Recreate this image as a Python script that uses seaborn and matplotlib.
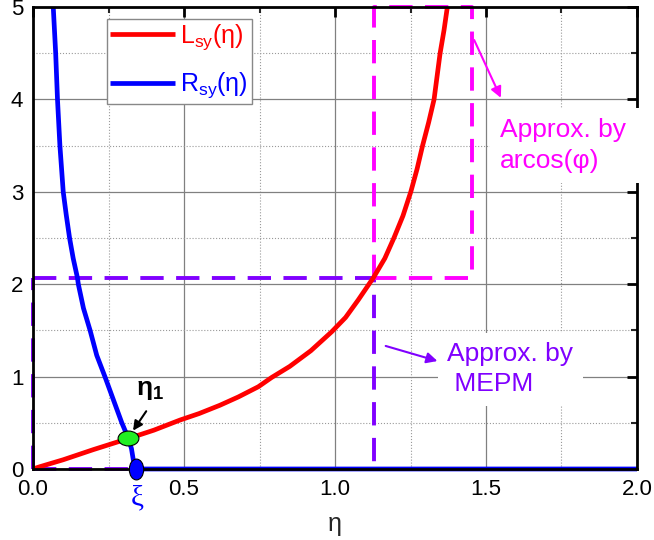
import numpy as np
import pandas as pd
import seaborn as sns
import matplotlib
matplotlib.use("Agg")
import matplotlib.pyplot as plt
from matplotlib.path import Path
from matplotlib.ticker import MultipleLocator

# ---- data ----
L_eta = [0.0, 0.023, 0.10, 0.20, 0.316, 0.40, 0.487, 0.55, 0.619, 0.68, 0.746, 0.79,
         0.85, 0.92, 0.989, 1.035, 1.077, 1.127, 1.165, 1.195, 1.225, 1.251, 1.272,
         1.29, 1.31, 1.328, 1.348, 1.361, 1.372]
L_val = [0.0, 0.025, 0.10, 0.21, 0.33, 0.42, 0.53, 0.60, 0.69, 0.78, 0.89, 0.99,
         1.11, 1.28, 1.485, 1.64, 1.83, 2.07, 2.28, 2.50, 2.74, 3.00, 3.25,
         3.50, 3.75, 4.00, 4.50, 4.75, 5.00]

R_eta = [0.067, 0.071, 0.075, 0.081, 0.089, 0.100, 0.110, 0.121, 0.133, 0.147, 0.150,
         0.167, 0.189, 0.211, 0.238, 0.266, 0.294, 0.316, 0.326, 0.332, 0.338, 0.341,
         0.6, 1.0, 1.5, 2.0]
R_val = [5.00, 4.75, 4.50, 4.00, 3.50, 3.00, 2.75, 2.50, 2.28, 2.07, 2.00,
         1.74, 1.50, 1.23, 1.00, 0.75, 0.50, 0.33, 0.22, 0.10, 0.02, 0.0,
         0.0, 0.0, 0.0, 0.0]

eta1 = [0.316]
eta1_val = [0.33]
xi = [0.340]
xi_val = [0.0]

eta_mepm = 1.13
L_mepm = 2.07
eta_arcos = 1.455
y_top = 5.0

x_ticks = [0.0, 0.5, 1.0, 1.5, 2.0]
x_ticklabels = ["0.0", "0.5", "1.0", "1.5", "2.0"]
y_ticks = [0, 1, 2, 3, 4, 5]

# ---- style ----
sns.set_theme(style="white")
plt.rcParams["font.family"] = ["Liberation Sans", "DejaVu Sans"]
plt.rcParams["mathtext.fontset"] = "custom"
plt.rcParams["mathtext.rm"] = "Liberation Sans"
plt.rcParams["mathtext.it"] = "Liberation Sans:italic"
plt.rcParams["mathtext.bf"] = "Liberation Sans:bold"

RED = "#FF0000"
BLUE = "#0000FF"
MAG = "#FF00FF"
PUR = "#8000FF"

fig = plt.figure(figsize=(6.54, 5.40), dpi=100)
ax = fig.add_axes([0.0505, 0.1315, 0.9235, 0.8555])

dfL = pd.DataFrame({"eta": L_eta, "val": L_val})
dfR = pd.DataFrame({"eta": R_eta, "val": R_val})

# dashed approximation rectangles
dash = (6, 3.2)
ax.plot([0, eta_mepm, eta_mepm], [L_mepm, L_mepm, 0], color=PUR, lw=2.8, dashes=dash, zorder=3)
ax.plot([0, 0], [0, L_mepm], color=PUR, lw=2.8, dashes=dash, zorder=3, clip_on=False)
ax.plot([0, eta_mepm], [0, 0], color=PUR, lw=2.8, dashes=dash, zorder=3, clip_on=False)
ax.plot([eta_mepm, eta_mepm, eta_arcos, eta_arcos, eta_mepm],
        [L_mepm, y_top, y_top, L_mepm, L_mepm], color=MAG, lw=2.8, dashes=dash, zorder=3, clip_on=False)

sns.lineplot(data=dfR, x="eta", y="val", color=BLUE, lw=3.4, ax=ax, sort=False,
             label=r"R$_{\rm sy}$(η)", zorder=4, clip_on=False)
sns.lineplot(data=dfL, x="eta", y="val", color=RED, lw=3.4, ax=ax, sort=False,
             label=r"L$_{\rm sy}$(η)", zorder=5)
for ln in ax.get_lines():
    ln.set_solid_joinstyle("round")
    ln.set_solid_capstyle("butt")

# markers
circ = Path.unit_circle()
v = circ.vertices.copy()
ell_wide = Path(v * np.array([1.4, 1.0]), circ.codes)
ell_tall = Path(v * np.array([1.0, 1.45]), circ.codes)
ax.plot(xi, xi_val, marker=ell_tall, ms=15, color=BLUE, mec="black", mew=0.8, ls="none", zorder=7, clip_on=False)
ax.plot(eta1, eta1_val, marker=ell_wide, ms=15, color="#22EE22", mec="black", mew=0.8, ls="none", zorder=7)

# axes
ax.set_xlim(0, 2)
ax.set_ylim(0, 5)
ax.set_xticks(x_ticks)
ax.set_xticklabels(x_ticklabels)
ax.set_yticks(y_ticks)
ax.xaxis.set_minor_locator(MultipleLocator(0.25))
ax.yaxis.set_minor_locator(MultipleLocator(0.5))
ax.grid(which="major", color="#808080", lw=0.9, ls="-")
ax.grid(which="minor", color="#9a9a9a", lw=0.8, ls=":")
ax.set_axisbelow(True)
for s in ax.spines.values():
    s.set_color("black")
    s.set_linewidth(2.0)
    s.set_zorder(6)
ax.tick_params(which="major", direction="in", length=7, width=2, top=True, right=True,
               labelsize=16, colors="black", pad=7)
ax.tick_params(which="minor", direction="in", length=4, width=1.5, top=True, right=True)
ax.set_xlabel("η", fontsize=18, labelpad=9)
ax.set_ylabel("")

# xi label
ax.text(xi[0] + 0.005, -0.18, "ξ", color=BLUE, fontsize=21, ha="center", va="top",
        family=["Liberation Serif", "DejaVu Serif"], transform=ax.transData)

# legend
handles, labels = ax.get_legend_handles_labels()
order = [labels.index(r"L$_{\rm sy}$(η)"), labels.index(r"R$_{\rm sy}$(η)")]
leg = ax.legend([handles[i] for i in order], [labels[i] for i in order],
                loc="upper left", bbox_to_anchor=(0.122, 0.975), fontsize=18,
                frameon=True, fancybox=False, framealpha=1, edgecolor="#888888",
                handlelength=2.6, handletextpad=0.2, borderpad=0.15, labelspacing=0.75,
                borderaxespad=0)
leg.get_frame().set_linewidth(1.0)
for t, c in zip(leg.get_texts(), [RED, BLUE]):
    t.set_color(c)
leg.set_zorder(8)

# annotations
ax.annotate("", xy=(1.553, 3.99), xytext=(1.457, 4.67),
            arrowprops=dict(arrowstyle="-|>", color=MAG, lw=1.5, mutation_scale=16), zorder=8)
ax.text(1.546, 3.5, "Approx. by  \narcos(φ)", color=MAG, fontsize=19, ha="left", va="center",
        linespacing=1.4, zorder=9,
        bbox=dict(facecolor="white", edgecolor="none", pad=7), clip_on=False)

ax.annotate("", xy=(1.348, 1.16), xytext=(1.159, 1.34),
            arrowprops=dict(arrowstyle="-|>", color=PUR, lw=1.5, mutation_scale=16), zorder=8)
ax.text(1.372, 1.08, "Approx. by\n MEPM", color=PUR, fontsize=19, ha="left", va="center",
        linespacing=1.3, zorder=9,
        bbox=dict(facecolor="white", edgecolor="none", pad=7))

ax.annotate("", xy=(0.326, 0.39), xytext=(0.38, 0.65),
            arrowprops=dict(arrowstyle="-|>", color="black", lw=1.5, mutation_scale=14), zorder=8)
ax.text(0.342, 0.72, r"η$_\mathbf{1}$", color="black", fontsize=19, fontweight="bold",
        ha="left", va="bottom", zorder=9)

fig.savefig("out.png", dpi=100)
